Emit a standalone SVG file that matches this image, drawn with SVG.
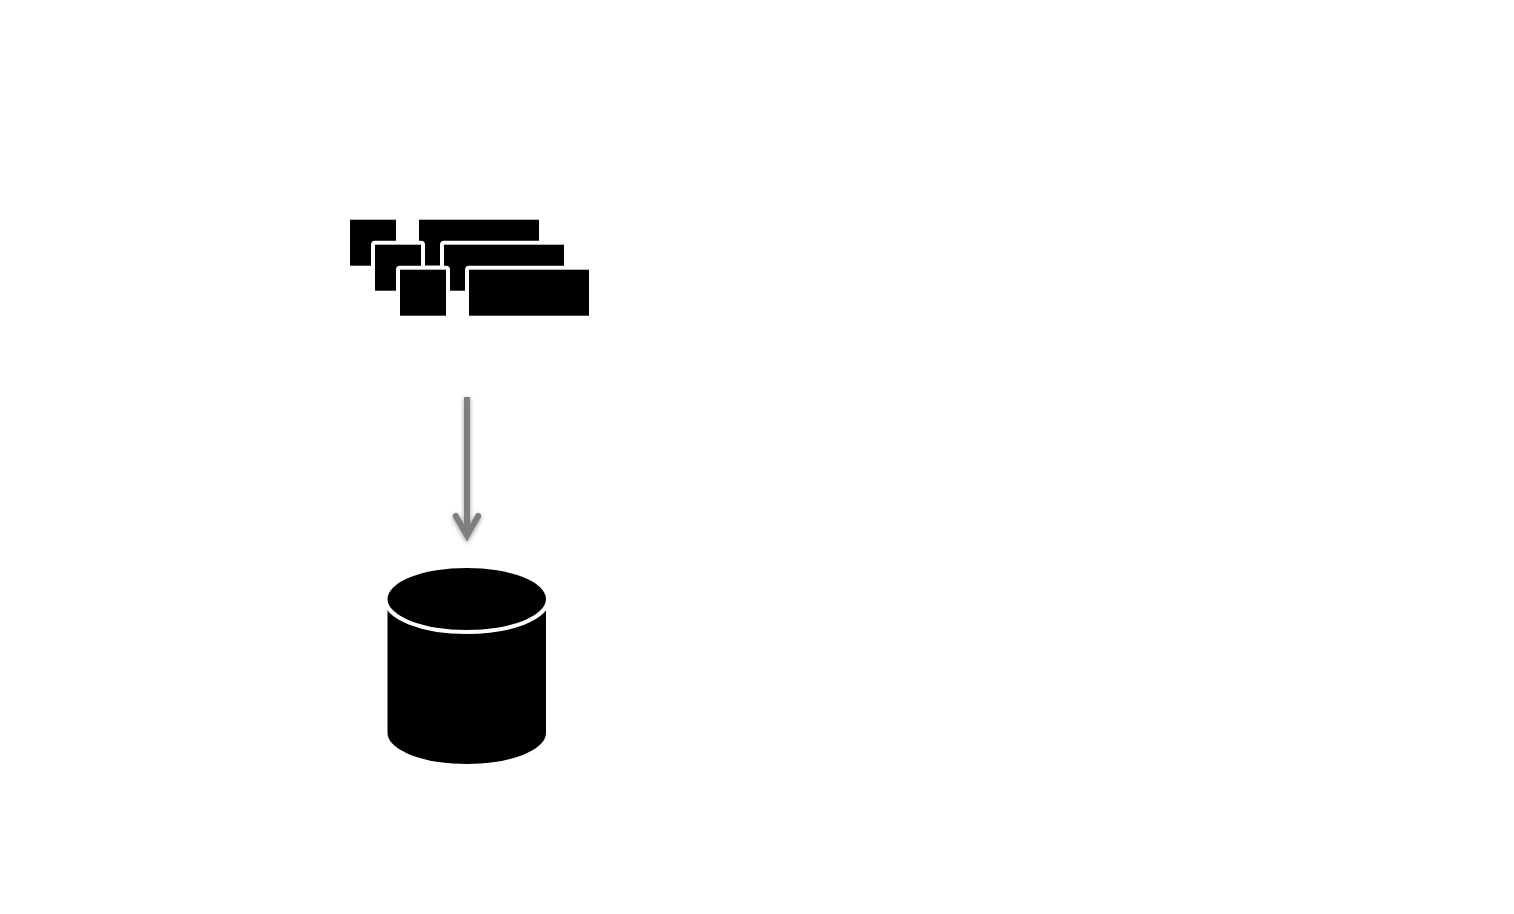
<svg xmlns="http://www.w3.org/2000/svg" width="1514" height="914" viewBox="0 0 1514 914">
<style>
.b{fill:#000;stroke:#fff;stroke-width:8;stroke-linejoin:round;paint-order:stroke}
.a{fill:none;stroke:#7f7f7f;stroke-width:6}
</style>
<defs>
<filter id="s" x="-50%" y="-10%" width="200%" height="120%">
<feDropShadow dx="0" dy="1.5" stdDeviation="2" flood-color="#000" flood-opacity="0.4"/>
</filter>
</defs>
<rect width="1514" height="914" fill="#fff"/>
<g id="data-blocks">
<rect class="b" x="350" y="219.7" width="46" height="46"/>
<rect class="b" x="419" y="219.7" width="120" height="46"/>
<rect class="b" x="375" y="244.7" width="46" height="46"/>
<rect class="b" x="444" y="244.7" width="120" height="46"/>
<rect class="b" x="400" y="269.7" width="46" height="46"/>
<rect class="b" x="469" y="269.7" width="120" height="46"/>
</g>
<g id="connectors">
<g filter="url(#s)">
<path class="a" d="M467 397V535"/>
<path class="a" stroke-linecap="round" stroke-linejoin="miter" d="M455.8 516 467 535.5 478.2 516"/>
</g>
</g>
<g id="database">
<path d="M387.5 599H546V733A79.25 31 0 0 1 387.5 733Z" fill="#000"/>
<ellipse class="b" cx="466.75" cy="599" rx="79.25" ry="31"/>
</g>
</svg>
